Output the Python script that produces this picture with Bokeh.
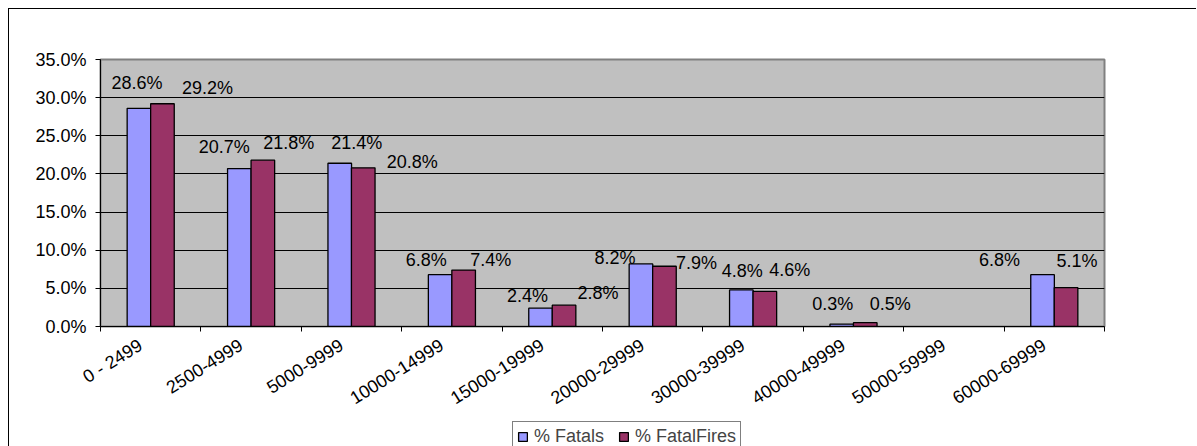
from bokeh.plotting import figure
from bokeh.layouts import column
from bokeh.models import (ColumnDataSource, Range1d, FixedTicker, Legend, LegendItem)
from bokeh.transform import dodge
from bokeh.core.properties import value
from bokeh.embed import file_html
from bokeh.resources import INLINE
import math

# ---- data ----
categories = ["0 - 2499", "2500-4999", "5000-9999", "10000-14999", "15000-19999",
              "20000-29999", "30000-39999", "40000-49999", "50000-59999", "60000-69999"]
pct_fatals = [28.6, 20.7, 21.4, 6.8, 2.4, 8.2, 4.8, 0.3, float("nan"), 6.8]
pct_fatalfires = [29.2, 21.8, 20.8, 7.4, 2.8, 7.9, 4.6, 0.5, float("nan"), 5.1]
y_ticks = [0, 5, 10, 15, 20, 25, 30, 35]
y_tick_labels = ["0.0%", "5.0%", "10.0%", "15.0%", "20.0%", "25.0%", "30.0%", "35.0%"]
series_names = ["% Fatals", "% FatalFires"]

# ---- label placement (screen px offsets, mimic original placement) ----
dx_fatals = [-2, -15, 17, -14, -13, -26, 1, -9, 0, -43]
dy_fatals = [-25, -22, -20, -15, -12, -6, -19, -20, 0, -15]
dx_fires = [45, 26, 49, 27, 34, 32, 25, 25, 0, 11]
dy_fires = [-16, -17, -6, -10, -12, -3, -21, -19, 0, -27]

FONT = "Liberation Sans"
FS = "18px"
C_FATALS = "#9999FF"
C_FIRES = "#993366"

n = len(categories)
xs = [i + 0.5 for i in range(n)]
label_pos = [i + 0.4 for i in range(n)]


def fmt(v):
    return "" if v != v else f"{v:.1f}%"


src = ColumnDataSource(dict(
    x=xs,
    fatals=pct_fatals,
    fires=pct_fatalfires,
    lab_f=[fmt(v) for v in pct_fatals],
    lab_ff=[fmt(v) for v in pct_fatalfires],
    ytop_f=[0 if v != v else v for v in pct_fatals],
    ytop_ff=[0 if v != v else v for v in pct_fatalfires],
    dxf=dx_fatals, dyf=dy_fatals, dxff=dx_fires, dyff=dy_fires,
))

p = figure(width=1187, height=410, output_backend="svg", toolbar_location=None,
           x_range=Range1d(0, n), y_range=Range1d(0, 35),
           min_border_left=91, min_border_right=92, min_border_top=50, min_border_bottom=93)

p.background_fill_color = "#C0C0C0"
p.border_fill_color = "white"
p.outline_line_color = "#808080"
p.outline_line_width = 2

# grid
p.xgrid.visible = False
p.ygrid.ticker = FixedTicker(ticks=y_ticks)
p.ygrid.grid_line_color = "black"
p.ygrid.grid_line_width = 1

# y axis
ya = p.yaxis[0]
ya.ticker = FixedTicker(ticks=y_ticks)
ya.major_label_overrides = {t: l for t, l in zip(y_ticks, y_tick_labels)}
ya.axis_line_color = "black"
ya.major_tick_line_color = "black"
ya.major_tick_out = 5
ya.major_tick_in = 0
ya.minor_tick_line_color = None
ya.major_label_standoff = 9
ya.major_label_text_font = FONT
ya.major_label_text_font_size = FS
ya.major_label_text_color = "black"

# x axis: labels near centres, tick marks at category boundaries
xa = p.xaxis[0]
xa.ticker = FixedTicker(ticks=label_pos, minor_ticks=list(range(n + 1)))
xa.major_label_overrides = {x: c for x, c in zip(label_pos, categories)}
xa.major_tick_out = 0
xa.major_tick_in = 0
xa.minor_tick_out = 5
xa.minor_tick_in = 0
xa.minor_tick_line_color = "black"
xa.axis_line_color = "black"
xa.major_label_orientation = math.radians(32)
xa.major_label_standoff = 12
xa.major_label_text_font = FONT
xa.major_label_text_font_size = FS
xa.major_label_text_color = "black"

# bars
bw = 0.235
p.vbar(x=dodge("x", -0.117), top="fatals", width=bw, source=src,
       fill_color=C_FATALS, line_color="black", line_width=1.3)
p.vbar(x=dodge("x", 0.117), top="fires", width=bw, source=src,
       fill_color=C_FIRES, line_color="black", line_width=1.3)

# data labels
p.text(x=dodge("x", -0.117), y="ytop_f", text="lab_f", source=src,
       x_offset="dxf", y_offset="dyf", text_align="center", text_baseline="middle",
       text_font=value(FONT), text_font_size=FS, text_color="black")
p.text(x=dodge("x", 0.117), y="ytop_ff", text="lab_ff", source=src,
       x_offset="dxff", y_offset="dyff", text_align="center", text_baseline="middle",
       text_font=value(FONT), text_font_size=FS, text_color="black")

# legend strip below the chart (proxy glyphs with no drawable data)
pl = figure(width=1187, height=27, output_backend="svg", toolbar_location=None,
            x_range=Range1d(0, 1), y_range=Range1d(0, 1),
            x_axis_type=None, y_axis_type=None,
            min_border_left=0, min_border_right=0, min_border_top=0, min_border_bottom=0)
pl.outline_line_color = None
pl.background_fill_color = "white"
pl.border_fill_color = "white"
pl.xgrid.visible = False
pl.ygrid.visible = False
nan = float("nan")
lr1 = pl.vbar(x=[nan], top=[nan], width=0.1, fill_color=C_FATALS, line_color="black", line_width=1.3)
lr2 = pl.vbar(x=[nan], top=[nan], width=0.1, fill_color=C_FIRES, line_color="black", line_width=1.3)

legend = Legend(items=[LegendItem(label=series_names[0], renderers=[lr1]),
                       LegendItem(label=series_names[1], renderers=[lr2])],
                orientation="horizontal", location=(412, -6),
                glyph_width=11, glyph_height=11, label_standoff=6, spacing=14,
                padding=4, margin=0,
                label_text_font=FONT, label_text_font_size=FS,
                border_line_color="black", border_line_width=1,
                background_fill_color="white", background_fill_alpha=1)
pl.add_layout(legend)

layout = column(p, pl, spacing=0)
layout.styles = {"margin-left": "8px", "margin-top": "8px",
                 "border-top": "1px solid black", "border-left": "1px solid black"}

open("out.html", "w").write(file_html(layout, INLINE))
